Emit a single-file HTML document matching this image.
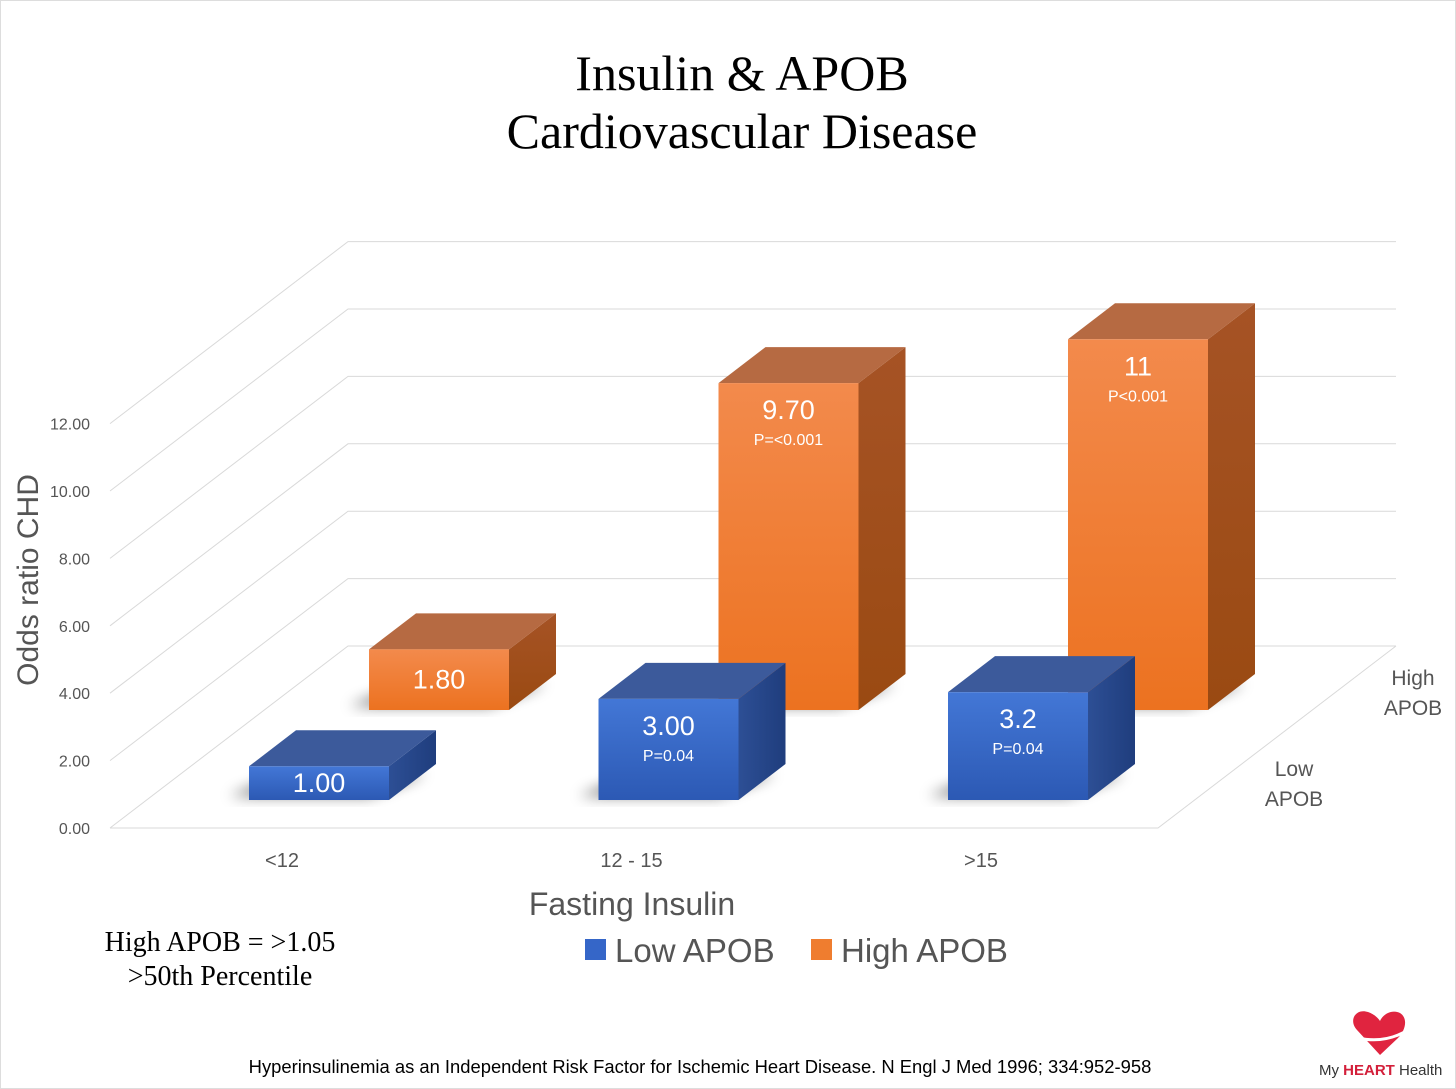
<!DOCTYPE html>
<html><head><meta charset="utf-8">
<style>
body{margin:0;background:#fff;}
svg{display:block;}
</style></head>
<body>
<svg id="chart" width="1456" height="1089" viewBox="0 0 1456 1089" xmlns="http://www.w3.org/2000/svg">
<defs>
<linearGradient id="blueFront" x1="0" y1="0" x2="0" y2="1"><stop offset="0" stop-color="#4377d6"/><stop offset="1" stop-color="#2c59b4"/></linearGradient>
<linearGradient id="blueSide" x1="0" y1="0" x2="1" y2="0"><stop offset="0" stop-color="#2d4f95"/><stop offset="1" stop-color="#1f3d7d"/></linearGradient>
<linearGradient id="orFront" x1="0" y1="0" x2="0" y2="1"><stop offset="0" stop-color="#f38a4c"/><stop offset="1" stop-color="#ec7220"/></linearGradient>
<linearGradient id="orSide" x1="0" y1="0" x2="0" y2="1"><stop offset="0" stop-color="#a65325"/><stop offset="1" stop-color="#9a4a12"/></linearGradient>
<filter id="blur" x="-50%" y="-50%" width="200%" height="200%"><feGaussianBlur stdDeviation="7"/></filter>
</defs>
<rect x="0.5" y="0.5" width="1455" height="1088" fill="#fff" stroke="#ddd"/>
<text x="742" y="90" font-family="Liberation Serif, serif" font-size="50" text-anchor="middle">Insulin &amp; APOB</text>
<text x="742" y="148" font-family="Liberation Serif, serif" font-size="50" text-anchor="middle">Cardiovascular Disease</text>
<g id="grid"></g>
<g id="ticks"></g>
<g id="bars"></g>
<g id="cats"></g>
<text transform="translate(38,580) rotate(-90)" font-family="Liberation Sans, sans-serif" font-size="30" fill="#555" text-anchor="middle">Odds ratio CHD</text>
<text x="632" y="915" font-family="Liberation Sans, sans-serif" font-size="32" fill="#555" text-anchor="middle">Fasting Insulin</text>
<text x="1413" y="685" font-family="Liberation Sans, sans-serif" font-size="21" fill="#555" text-anchor="middle"><tspan x="1413">High</tspan><tspan x="1413" dy="30">APOB</tspan></text>
<text x="1294" y="776" font-family="Liberation Sans, sans-serif" font-size="21" fill="#555" text-anchor="middle"><tspan x="1294">Low</tspan><tspan x="1294" dy="30">APOB</tspan></text>
<g>
<rect x="585" y="939" width="21" height="21" fill="#3566c8"/>
<text x="615" y="962" font-family="Liberation Sans, sans-serif" font-size="33" fill="#555">Low APOB</text>
<rect x="811" y="939" width="21" height="21" fill="#ef7d2f"/>
<text x="841" y="962" font-family="Liberation Sans, sans-serif" font-size="33" fill="#555">High APOB</text>
</g>
<text x="220" y="951" font-family="Liberation Serif, serif" font-size="28" text-anchor="middle"><tspan x="220">High APOB = &gt;1.05</tspan><tspan x="220" dy="34">&gt;50th Percentile</tspan></text>
<text x="700" y="1073" font-family="Liberation Sans, sans-serif" font-size="18.4" text-anchor="middle">Hyperinsulinemia as an Independent Risk Factor for Ischemic Heart Disease. N Engl J Med 1996; 334:952-958</text>
<g>
<path d="M1380 1055 L1357 1030 C1348 1020 1356 1008 1368 1012 C1374 1014 1378 1018 1380 1021 C1383 1014 1392 1009 1400 1013 C1408 1018 1406 1030 1398 1038 Z" fill="#e0243f"/>
<path d="M1358 1038 Q1385 1044 1408 1030" stroke="#fff" stroke-width="3" fill="none"/>
<text x="1319" y="1075" font-family="Liberation Sans, sans-serif" font-size="15" fill="#333">My <tspan fill="#d31f3a" font-weight="bold">HEART</tspan> Health</text>
</g>
</svg>
<script>
const categories = ["<12", "12 - 15", ">15"];
const lowValues = [1.00, 3.00, 3.2];
const highValues = [1.80, 9.70, 11];
const lowLabels = ["1.00", "3.00", "3.2"];
const highLabels = ["1.80", "9.70", "11"];
const lowPvals = ["", "P=0.04", "P=0.04"];
const highPvals = ["", "P=<0.001", "P<0.001"];
const yTicks = [0, 2, 4, 6, 8, 10, 12];
const yTickLabels = ["0.00","2.00","4.00","6.00","8.00","10.00","12.00"];

const NS = "http://www.w3.org/2000/svg";
const unit = 33.7;
const frontY0 = 828, backY0 = 646, frontX0 = 110, backX0 = 348, frontX1 = 1158, backX1 = 1396;
function frontY(v){ return frontY0 - v*unit; }
function backY(v){ return backY0 - v*unit; }
const catX0 = 249, catStep = 349.5, barW = 140, dx = 47, dy = -36;
const rows = { low:{x:0, base:800}, high:{x:120, base:710} };
function barX(i, row){ return catX0 + i*catStep + rows[row].x; }
function barTop(v, row){ return rows[row].base - v*unit; }

function el(tag, attrs, parent){ const e=document.createElementNS(NS,tag); for(const k in attrs) e.setAttribute(k,attrs[k]); parent.appendChild(e); return e; }

const grid = document.getElementById('grid');
yTicks.forEach(function(t){
  const g = el('polyline',{points:`${frontX0},${frontY(t)} ${backX0},${backY(t)} ${backX1},${backY(t)}`,fill:'none',stroke:'#d9d9d9','stroke-width':1},grid);
  
  
});
const floor = el('polyline',{points:`${frontX0},${frontY0} ${frontX1},${frontY0} ${backX1},${backY0}`,fill:'none',stroke:'#d9d9d9','stroke-width':1},grid);



const ticks = document.getElementById('ticks');
yTicks.forEach(function(t,i){
  const tx = el('text',{x:90,y:frontY(t)+6,'text-anchor':'end','font-family':'Liberation Sans, sans-serif','font-size':16,fill:'#555'},ticks);
  tx.textContent = yTickLabels[i];
  
  
});

const cats = document.getElementById('cats');
categories.forEach(function(c,i){
  const tx = el('text',{x:barX(i,'low')+33,y:867,'text-anchor':'middle','font-family':'Liberation Sans, sans-serif','font-size':20,fill:'#555'},cats);
  tx.textContent = c;
  
  
});

const bars = document.getElementById('bars');
function drawBar(i, v, row, label, pval){
  const x = barX(i,row), base = rows[row].base, top = barTop(v,row);
  const isLow = row==='low';
  const g = el('g',{},bars);
  
  
  el('polygon',{points:`${x-20},${base-4} ${x+barW-20},${base-4} ${x+barW+dx-10},${base+dy+10} ${x+dx-10},${base+dy+10}`,fill:'#000',opacity:0.55,filter:'url(#blur)'},g);
  el('polygon',{points:`${x+barW},${top} ${x+barW+dx},${top+dy} ${x+barW+dx},${base+dy} ${x+barW},${base}`,fill:isLow?'url(#blueSide)':'url(#orSide)'},g);
  el('polygon',{points:`${x},${top} ${x+dx},${top+dy} ${x+barW+dx},${top+dy} ${x+barW},${top}`,fill:isLow?'#3c5a9b':'#b66a42'},g);
  el('rect',{x:x,y:top,width:barW,height:base-top,fill:isLow?'url(#blueFront)':'url(#orFront)'},g);
  const cx = x+barW/2;
  const hasP = pval!=='';
  const ty = hasP ? top+36 : (base+top)/2+9;
  const t = el('text',{x:cx,y:ty,'text-anchor':'middle','font-family':'Liberation Sans, sans-serif','font-size':27,fill:'#fff'},g);
  t.textContent = label;
  
  
  if(hasP){
    const p = el('text',{x:cx,y:top+62,'text-anchor':'middle','font-family':'Liberation Sans, sans-serif','font-size':16,fill:'#fff'},g);
    p.textContent = pval;
    
    
  }
}
highValues.forEach(function(v,i){ drawBar(i,v,'high',highLabels[i],highPvals[i]); });
lowValues.forEach(function(v,i){ drawBar(i,v,'low',lowLabels[i],lowPvals[i]); });
</script>
</body></html>
